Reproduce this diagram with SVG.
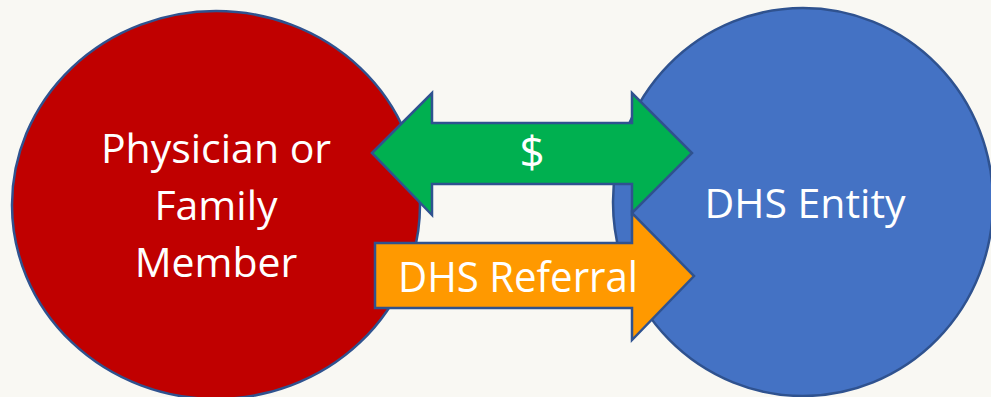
<svg xmlns="http://www.w3.org/2000/svg" width="991" height="397" viewBox="0 0 991 397">
<style>
.shape{stroke:#2f528f;stroke-width:2.5;stroke-linejoin:miter}
.lbl{font-family:"Open Sans","Noto Sans","DejaVu Sans",sans-serif;fill:#ffffff;text-anchor:middle}
</style>
<rect width="991" height="397" fill="#f9f8f3"/>
<g id="physician">
<ellipse class="shape" cx="216" cy="205" rx="204" ry="194" fill="#c00000"/>
<text class="lbl" font-size="41" x="216" y="163">Physician or</text>
<text class="lbl" font-size="41" x="216" y="220">Family</text>
<text class="lbl" font-size="41" x="216" y="277">Member</text>
</g>
<g id="dhs-entity">
<ellipse class="shape" cx="803" cy="202" rx="190" ry="194" fill="#4472c4"/>
<text class="lbl" font-size="41" x="805" y="218">DHS Entity</text>
</g>
<g id="connectors">
<g id="money">
<polygon class="shape" fill="#00b050" points="372,153 432,93 432,123 632,123 632,93 692,153 632,213 632,184 432,184 432,215"/>
<text class="lbl" font-size="44" x="532" y="168">$</text>
</g>
<g id="referral">
<polygon class="shape" fill="#ff9900" points="375,243 632,243 632,213 694,276 632,340 632,308 375,308"/>
<text class="lbl" font-size="42" x="518" y="292" textLength="240" lengthAdjust="spacingAndGlyphs">DHS Referral</text>
</g>
</g>
</svg>
